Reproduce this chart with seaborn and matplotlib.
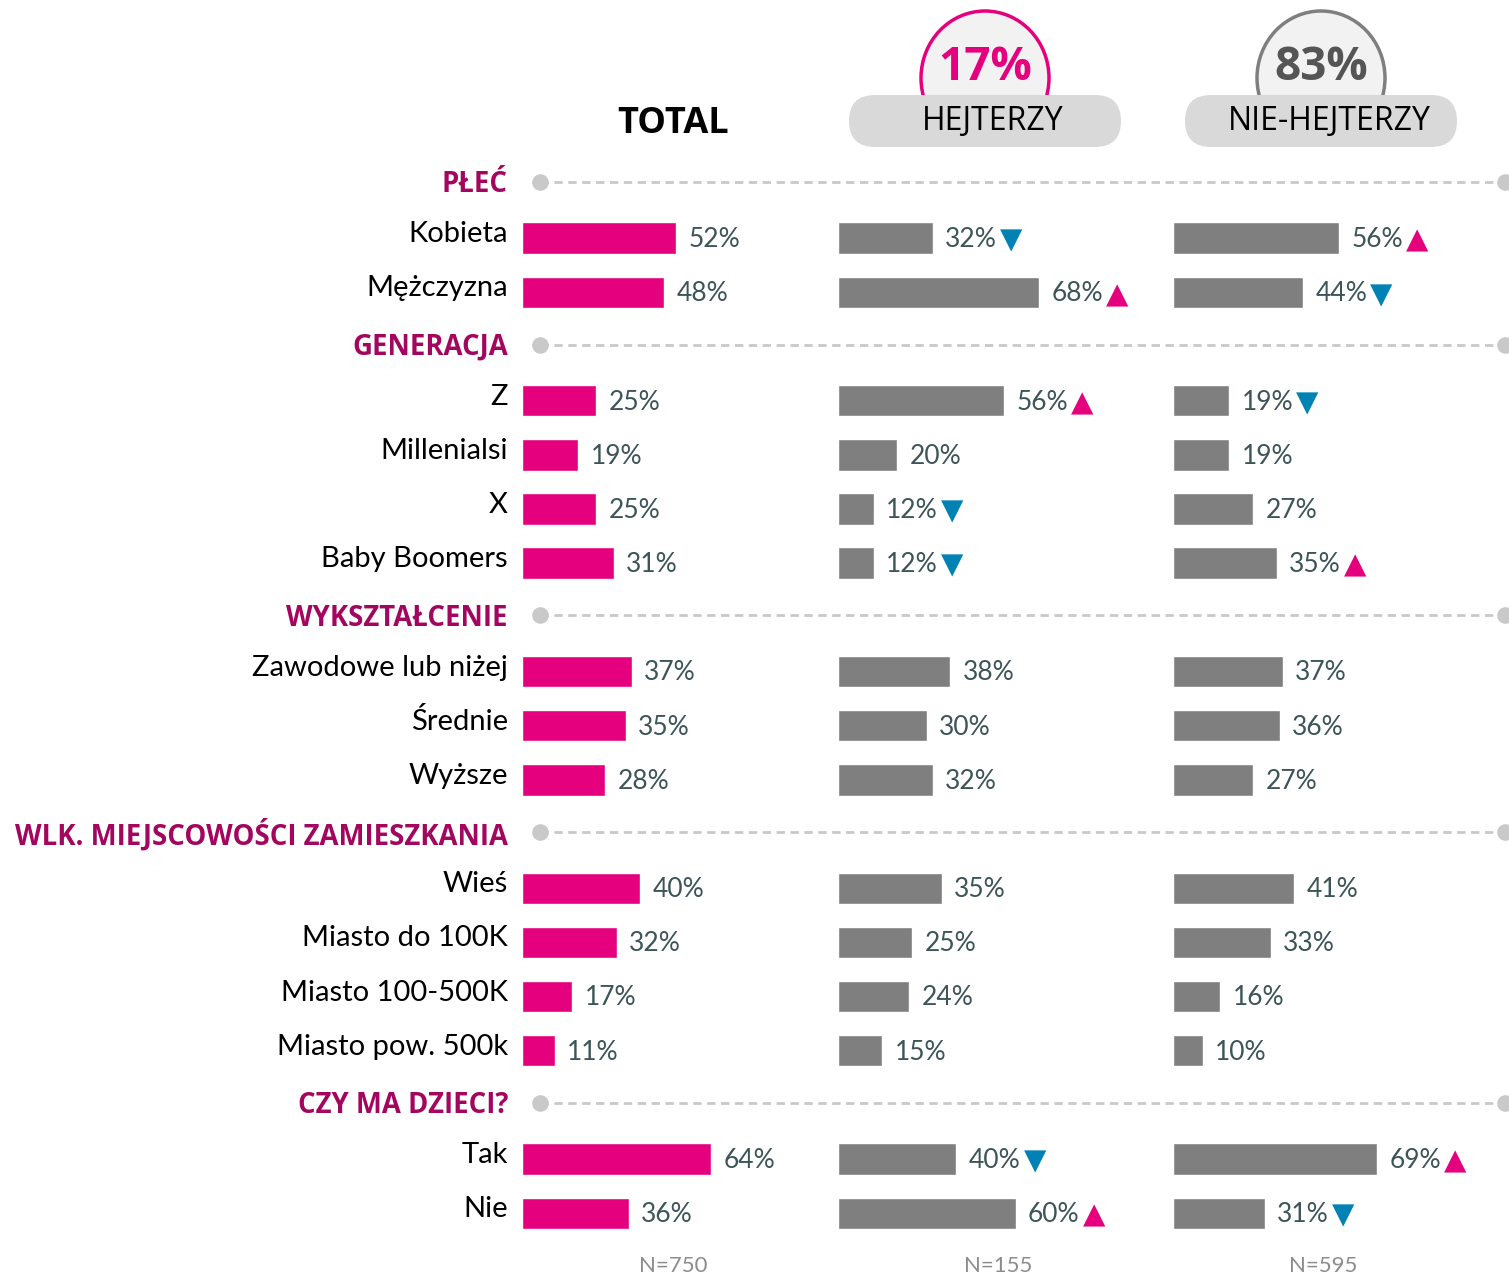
import numpy as np
import pandas as pd
import seaborn as sns
import matplotlib.pyplot as plt
from matplotlib.patches import Ellipse, FancyBboxPatch

# data
sections = ['PŁEĆ', 'GENERACJA', 'WYKSZTAŁCENIE', 'WLK. MIEJSCOWOŚCI ZAMIESZKANIA', 'CZY MA DZIECI?']
section_sizes = [2, 4, 3, 4, 2]
categories = ['Kobieta', 'Mężczyzna',
              'Z', 'Millenialsi', 'X', 'Baby Boomers',
              'Zawodowe lub niżej', 'Średnie', 'Wyższe',
              'Wieś', 'Miasto do 100K', 'Miasto 100-500K', 'Miasto pow. 500k',
              'Tak', 'Nie']
total = [52, 48, 25, 19, 25, 31, 37, 35, 28, 40, 32, 17, 11, 64, 36]
hejterzy = [32, 68, 56, 20, 12, 12, 38, 30, 32, 35, 25, 24, 15, 40, 60]
hejterzy_sig = ['down', 'up', 'up', '', 'down', 'down', '', '', '', '', '', '', '', 'down', 'up']
nie_hejterzy = [56, 44, 19, 19, 27, 35, 37, 36, 27, 41, 33, 16, 10, 69, 31]
nie_hejterzy_sig = ['up', 'down', 'down', '', '', 'up', '', '', '', '', '', '', '', 'up', 'down']
group_share = ['17%', '83%']
group_names = ['HEJTERZY', 'NIE-HEJTERZY']
sample_sizes = ['N=750', 'N=155', 'N=595']

PINK = '#e5007e'
GREY_BAR = '#7f7f7f'
SECTION = '#a3065e'
VALTXT = '#3d5559'
BLUE = '#0082b4'
LINE = '#c9c9c9'

W, H = 1509, 1278
fig = plt.figure(figsize=(W / 100, H / 100), dpi=100)
sns.set_style('white')

# slot layout: headers and rows on one grid
Y0, STEP = 184, 54.17
header_slots, cat_slots = [], []
s = 0
for n in section_sizes:
    header_slots.append(s)
    s += 1
    cat_slots.extend(range(s, s + n))
    s += n
def px(slot):
    return Y0 + STEP * slot
ylim = ((H - Y0) / STEP, -Y0 / STEP)

df = pd.DataFrame({'cat': categories, 'slot': cat_slots, 'total': total,
                   'hejterzy': hejterzy, 'nie': nie_hejterzy})

col_left = [522, 838, 1173]
col_w = 296  # px for 100%
cols = [('total', None, PINK), ('hejterzy', hejterzy_sig, GREY_BAR), ('nie', nie_hejterzy_sig, GREY_BAR)]

for left, (key, sig, colr) in zip(col_left, cols):
    ax = fig.add_axes([left / W, 0, col_w / W, 1])
    sns.barplot(data=df, x=key, y='slot', orient='h', native_scale=True,
                width=0.58, color=colr, saturation=1, ax=ax)
    ax.set_xlim(0, 100)
    ax.set_ylim(*ylim)
    ax.axis('off')
    for i, (v, yy) in enumerate(zip(df[key], df['slot'])):
        t = ax.annotate(f'{v}%', xy=(v, yy), xytext=(9, -1), textcoords='offset points',
                        ha='left', va='center', fontsize=19, color=VALTXT,
                        family='Lato', fontweight='normal', annotation_clip=False)
        if sig is not None and sig[i]:
            ax.annotate('▲' if sig[i] == 'up' else '▼', xy=(1, 0.45), xycoords=t,
                        xytext=(2, 0), textcoords='offset points', ha='left', va='center',
                        fontsize=21, color=PINK if sig[i] == 'up' else BLUE,
                        family='DejaVu Sans', annotation_clip=False)

# overlay in pixel coordinates
ov = fig.add_axes([0, 0, 1, 1])
ov.set_xlim(0, W)
ov.set_ylim(H, 0)
ov.axis('off')
ov.patch.set_alpha(0)

for name, sl in zip(sections, header_slots):
    y = px(sl) - 2
    ov.text(508, y + 3, name, ha='right', va='center', fontsize=19.8, fontweight='bold',
            color=SECTION, family='Open Sans')
    ov.plot([540, 1505], [y, y], color=LINE, lw=2, ls=(0, (3, 2)), zorder=1)
    ov.scatter([540, 1505], [y, y], s=120, color=LINE, zorder=2, clip_on=False)

for name, sl in zip(categories, cat_slots):
    ov.text(508, px(sl) - 4, name, ha='right', va='center', fontsize=21,
            color='black', family='Lato')

ov.text(673, 124, 'TOTAL', ha='center', va='center', fontsize=26, fontweight='bold',
        color='black', family='Open Sans')

for cx, share, gname, ecol, tcol in zip([985, 1321], group_share, group_names,
                                        [PINK, '#7f7f7f'], [PINK, '#555555']):
    ov.add_patch(Ellipse((cx, 78), 128, 134, facecolor='#f2f2f2', edgecolor=ecol, lw=2.5, zorder=3))
    ov.text(cx, 68, share, ha='center', va='center', fontsize=33, fontweight='bold',
            color=tcol, family='Open Sans', zorder=4)
    ov.add_patch(FancyBboxPatch((cx - 110, 121), 220, 0, boxstyle='round,pad=26',
                                facecolor='#d9d9d9', edgecolor='none', zorder=5))
    ov.text(cx + 8, 121, gname, ha='center', va='center', fontsize=23, color='black',
            family='Open Sans', zorder=6)

for cx, n in zip([673, 998, 1323], sample_sizes):
    ov.text(cx, 1266, n, ha='center', va='center', fontsize=16, color='#8c8c8c',
            family='Lato')

fig.savefig('out.png', dpi=100)
